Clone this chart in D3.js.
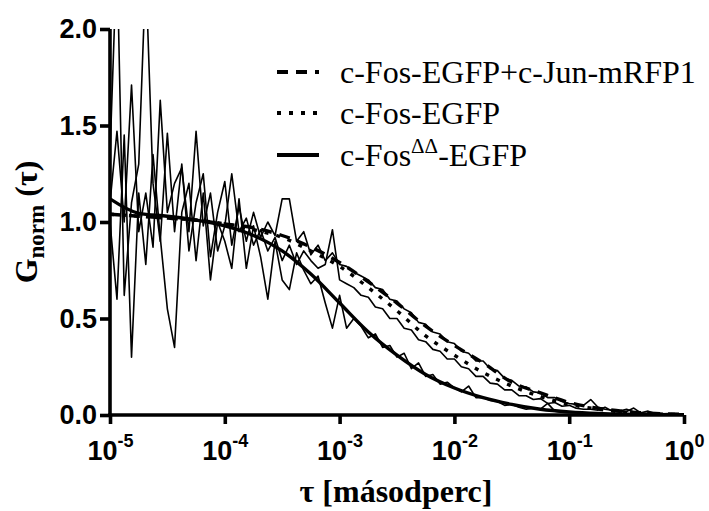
<!DOCTYPE html>
<html lang="hu">
<head>
<meta charset="utf-8">
<title>FCS</title>
<script src="https://cdn.jsdelivr.net/npm/d3@7"></script>
<style>
  body { margin: 0; background: #fff; }
  svg { display: block; }
</style>
</head>
<body>
<div id="chart"></div>
<script>
// lag times of the correlator (s), 16 per decade
const lagTime = [
  1.00e-5,1.15e-5,1.33e-5,1.54e-5,1.78e-5,2.05e-5,2.37e-5,2.74e-5,3.16e-5,3.65e-5,4.22e-5,4.87e-5,5.62e-5,6.49e-5,7.50e-5,8.66e-5,
  1.00e-4,1.15e-4,1.33e-4,1.54e-4,1.78e-4,2.05e-4,2.37e-4,2.74e-4,3.16e-4,3.65e-4,4.22e-4,4.87e-4,5.62e-4,6.49e-4,7.50e-4,8.66e-4,
  1.00e-3,1.15e-3,1.33e-3,1.54e-3,1.78e-3,2.05e-3,2.37e-3,2.74e-3,3.16e-3,3.65e-3,4.22e-3,4.87e-3,5.62e-3,6.49e-3,7.50e-3,8.66e-3,
  1.00e-2,1.15e-2,1.33e-2,1.54e-2,1.78e-2,2.05e-2,2.37e-2,2.74e-2,3.16e-2,3.65e-2,4.22e-2,4.87e-2,5.62e-2,6.49e-2,7.50e-2,8.66e-2,
  1.00e-1,1.15e-1,1.33e-1,1.54e-1,1.78e-1,2.05e-1,2.37e-1,2.74e-1,3.16e-1,3.65e-1,4.22e-1,4.87e-1,5.62e-1,6.49e-1,7.50e-1,8.66e-1,
  1.00
];

// measured curves
const rawFosJun = [
  1.35,2.40,0.62,1.10,1.30,2.30,1.20,0.90,1.46,0.95,1.30,0.85,1.10,1.25,0.82,1.05,
  1.21,0.88,1.08,0.90,1.05,0.92,1.00,0.93,1.12,1.12,0.90,0.95,0.83,0.88,0.80,0.84,
  0.78,0.77,0.74,0.72,0.70,0.66,0.65,0.60,0.59,0.55,0.53,0.48,0.47,0.43,0.42,0.38,
  0.37,0.33,0.32,0.28,0.28,0.24,0.23,0.19,0.18,0.15,0.145,0.12,0.115,0.09,0.09,0.07,
  0.06,0.055,0.05,0.08,0.04,0.03,0.025,0.02,0.03,0.015,0.012,0.02,0.008,0.006,0.008,0.004,
  0.003
];
const rawFos = [
  1.10,1.47,1.00,1.71,0.95,1.15,0.87,1.63,1.05,1.20,1.28,0.95,1.47,0.98,1.15,0.85,
  0.98,1.25,0.95,1.02,0.88,0.96,0.85,0.92,0.80,0.88,0.78,0.85,0.80,0.76,0.78,0.96,
  0.70,0.68,0.66,0.62,0.61,0.56,0.55,0.50,0.50,0.45,0.44,0.39,0.38,0.34,0.33,0.29,
  0.29,0.25,0.24,0.20,0.20,0.165,0.16,0.13,0.13,0.10,0.10,0.08,0.085,0.06,0.065,0.045,
  0.05,0.035,0.03,0.03,0.025,0.04,0.02,0.015,0.018,0.036,0.01,0.008,0.01,0.005,0.004,0.003,
  0.002
];
const rawFosDD = [
  1.00,0.60,1.45,0.30,1.15,0.78,1.35,0.92,0.55,0.35,1.05,1.20,0.80,1.15,0.70,1.00,
  0.90,0.76,1.12,0.76,0.98,0.82,0.60,0.90,0.70,0.65,0.84,0.75,0.68,0.72,0.58,0.45,
  0.62,0.45,0.50,0.46,0.40,0.42,0.35,0.36,0.30,0.32,0.24,0.27,0.20,0.21,0.16,0.17,
  0.14,0.12,0.15,0.09,0.09,0.075,0.07,0.05,0.055,0.04,0.03,0.035,0.03,0.06,0.02,0.015,
  0.012,0.01,0.008,0.01,0.006,0.005,0.004,0.006,0.003,0.002,0.003,0.002,0.001,0.002,0.001,0.001,
  0.0
];

// fitted curves
const fitTime = [1e-5,1.78e-5,3.16e-5,5.62e-5,1e-4,1.78e-4,3.16e-4,5.62e-4,1e-3,1.78e-3,3.16e-3,5.62e-3,
  1e-2,1.78e-2,3.16e-2,5.62e-2,1e-1,1.78e-1,3.16e-1,5.62e-1,1];
const fitFosJun = [1.04,1.03,1.02,1.01,0.99,0.97,0.93,0.87,0.79,0.69,0.58,0.46,0.36,0.27,0.17,0.115,0.065,0.035,0.018,0.008,0.003];
const fitFos    = [1.04,1.03,1.02,1.01,0.99,0.96,0.92,0.85,0.77,0.66,0.54,0.41,0.31,0.22,0.15,0.095,0.055,0.03,0.014,0.006,0.002];
const fitFosDD  = [1.12,1.045,1.03,1.01,0.98,0.93,0.85,0.73,0.58,0.43,0.31,0.21,0.14,0.09,0.055,0.03,0.016,0.008,0.004,0.002,0.001];

const xTicks = [1e-5,1e-4,1e-3,1e-2,1e-1,1];
const yTicks = [0,0.5,1,1.5,2];
const legendLabels = ["c-Fos-EGFP+c-Jun-mRFP1", "c-Fos-EGFP", "c-Fos"];

const W = 709, H = 511;
const plot = { left: 110, right: 684, top: 29, bottom: 415 };

const svg = d3.select("#chart").append("svg")
  .attr("width", W).attr("height", H);

const x = d3.scaleLog().domain([1e-5, 1]).range([plot.left, plot.right]);
const y = d3.scaleLinear().domain([0, 2]).range([plot.bottom, plot.top]);

svg.append("clipPath").attr("id", "clip")
  .append("rect")
  .attr("x", plot.left).attr("y", plot.top)
  .attr("width", plot.right - plot.left).attr("height", plot.bottom - plot.top);

const data = svg.append("g").attr("clip-path", "url(#clip)");

// raw curves
const rawLine = d3.line().x((d, i) => x(lagTime[i])).y(d => y(d));
[rawFosJun, rawFos, rawFosDD].forEach(s => {
  data.append("path")
    .attr("d", rawLine(s))
    .attr("fill", "none")
    .attr("stroke", "#000")
    .attr("stroke-width", 1.6)
    .attr("stroke-linejoin", "round");
});

// fits
const fitLine = d3.line().curve(d3.curveMonotoneX)
  .x((d, i) => x(fitTime[i])).y(d => y(d));
const styles = [
  { series: fitFosJun, dash: "11,8" },
  { series: fitFos, dash: "4,8" },
  { series: fitFosDD, dash: null }
];
styles.forEach(s => {
  data.append("path")
    .attr("d", fitLine(s.series))
    .attr("fill", "none")
    .attr("stroke", "#000")
    .attr("stroke-width", 3.4)
    .attr("stroke-dasharray", s.dash);
});

// axes
const axisFont = "'Liberation Sans', Arial, sans-serif";
const gx = svg.append("g")
  .attr("transform", `translate(0,${plot.bottom})`)
  .call(d3.axisBottom(x).tickValues(xTicks).tickSize(9).tickFormat(""));
const gy = svg.append("g")
  .attr("transform", `translate(${plot.left},0)`)
  .call(d3.axisLeft(y).tickValues(yTicks).tickSize(10).tickSizeOuter(0).tickFormat(d3.format(".1f")));
[gx, gy].forEach(g => {
  g.select(".domain").attr("stroke-width", 3.6);
  g.selectAll(".tick line").attr("stroke-width", 3.6);
});
gx.select(".domain").attr("d", `M${plot.left - 1.8},0H${plot.right}`);
gy.select(".domain").attr("d", `M0,${plot.top}V${plot.bottom}`);
gy.selectAll(".tick text")
  .attr("x", -13)
  .style("font-family", axisFont)
  .style("font-size", "27px")
  .style("font-weight", "bold")
  .attr("fill", "#000");

// decade labels with superscript exponents
gx.selectAll(".tick").each(function (d) {
  const t = d3.select(this).append("text")
    .attr("y", 45)
    .attr("text-anchor", "middle")
    .attr("fill", "#000")
    .style("font-family", axisFont)
    .style("font-size", "27px")
    .style("font-weight", "bold");
  t.append("tspan").text("10");
  t.append("tspan")
    .attr("dy", -13)
    .style("font-size", "18px")
    .text(String(Math.round(Math.log10(d))).replace("\u2212", "-"));
});

// axis titles
const serif = "'Liberation Serif', 'Times New Roman', serif";
svg.append("text")
  .attr("x", 396).attr("y", 502)
  .attr("text-anchor", "middle")
  .style("font-family", serif)
  .style("font-size", "32px")
  .style("font-weight", "bold")
  .text("τ [másodperc]");

const yt = svg.append("text")
  .attr("transform", "translate(37,222) rotate(-90)")
  .attr("text-anchor", "middle")
  .style("font-family", serif)
  .style("font-size", "32px")
  .style("font-weight", "bold");
yt.append("tspan").text("G");
yt.append("tspan").attr("dy", 7).style("font-size", "23px").text("norm");
yt.append("tspan").attr("dy", -7).text(" (τ)");

// legend
const rowY = [72, 113, 155];
const leg = svg.append("g");
styles.forEach((s, i) => {
  leg.append("line")
    .attr("x1", 277).attr("x2", 319)
    .attr("y1", rowY[i]).attr("y2", rowY[i])
    .attr("stroke", "#000")
    .attr("stroke-width", 4)
    .attr("stroke-dasharray", s.dash);
  const t = leg.append("text")
    .attr("x", 340).attr("y", rowY[i] + 11)
    .style("font-family", serif)
    .style("font-size", "32px")
    .text(legendLabels[i]);
  if (i === 2) {
    t.append("tspan").attr("dy", -13).style("font-size", "21px").text("ΔΔ");
    t.append("tspan").attr("dy", 13).text("-EGFP");
  }
});
</script>
</body>
</html>
